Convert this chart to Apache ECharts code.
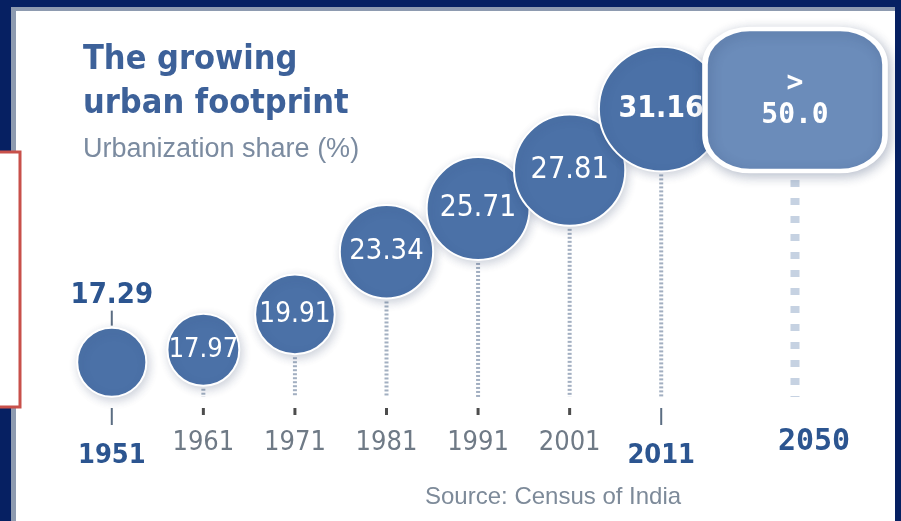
<!DOCTYPE html>
<html>
<head>
<meta charset="utf-8">
<script src="https://cdn.jsdelivr.net/npm/echarts@6/dist/echarts.min.js"></script>
<style>
  html, body { margin: 0; padding: 0; background: #062062; }
  #chart { width: 901px; height: 521px; }
</style>
</head>
<body>
<div id="chart"></div>
<script>
// census years and urban share (%)
var years = ['1951', '1961', '1971', '1981', '1991', '2001', '2011'];
var share = [17.29, 17.97, 19.91, 23.34, 25.71, 27.81, 31.16];
var boldYears = ['1951', '2011'];
var futureYear = ['2050'];
var futureShare = [50.0];
var futureText = ['>\n50.0'];

var narrow = '"DejaVu Sans Condensed", "Liberation Sans", sans-serif';
var mono = '"DejaVu Sans Mono", monospace';
var blue = '#4b71a7';
var darkBlue = '#2c5590';

var myChart = echarts.init(document.getElementById('chart'));

var bubbleData = share.map(function (v, i) {
    var isBold = i === share.length - 1;
    var item = {
        value: v,
        label: {
            show: true,
            position: 'inside',
            color: '#fff',
            fontFamily: narrow,
            fontSize: isBold ? 30 : 27 + (v - 18) * 0.35,
            fontWeight: isBold ? 'bold' : 'normal'
        }
    };
    if (i === 0) {
        item.label = {
            show: true,
            position: 'top',
            distance: 17,
            color: darkBlue,
            fontFamily: narrow,
            fontSize: 29,
            fontWeight: 'bold'
        };
    }
    return item;
});

function stemItem(params, api) {
    var idx = api.value(0);
    var v = api.value(1);
    var p = api.coord([idx, v]);
    var base = api.coord([idx, 15])[1];
    var r = v * 2;
    var bold = boldYears.indexOf(years[idx]) >= 0;
    var children = [];
    if (p[1] + r + 3 < base - 7) {
        children.push({
            type: 'line',
            shape: { x1: p[0], y1: p[1] + r + 3, x2: p[0], y2: base - 7 },
            style: { stroke: '#a2afc1', lineWidth: 4, lineDash: [2, 2] }
        });
    }
    children.push({
        type: 'line',
        shape: { x1: p[0], y1: base + 4, x2: p[0], y2: base + (bold ? 21 : 11) },
        style: { stroke: bold ? '#5b6d82' : '#4d4d4d', lineWidth: bold ? 2 : 3 }
    });
    if (idx === 0) {
        children.push({
            type: 'line',
            shape: { x1: p[0], y1: p[1] - r - 2, x2: p[0], y2: p[1] - r - 17 },
            style: { stroke: '#5b6d82', lineWidth: 2 }
        });
    }
    return { type: 'group', children: children };
}

const option = {
    backgroundColor: '#062062',
    animation: false,
    graphic: [
        { type: 'rect', z: -10, shape: { x: 11, y: 7, width: 884, height: 520 }, style: { fill: '#8e9bb0' } },
        { type: 'rect', z: -9, shape: { x: 16, y: 11, width: 879, height: 520 }, style: { fill: '#ffffff' } },
        { type: 'rect', z: -8, shape: { x: -10, y: 152, width: 30, height: 255 }, style: { fill: '#ffffff', stroke: '#c8504a', lineWidth: 3 } }
    ],
    title: [
        {
            text: 'The growing\nurban footprint',
            left: 78,
            top: 33,
            itemGap: 10,
            textStyle: { fontFamily: narrow, fontSize: 34, lineHeight: 44, fontWeight: 'bold', color: '#3d6199' },
            subtext: 'Urbanization share (%)',
            subtextStyle: { fontFamily: '"Liberation Sans", sans-serif', fontSize: 27, color: '#7b8ba0' }
        },
        {
            text: 'Source: Census of India',
            left: 420,
            top: 480,
            textStyle: { fontFamily: '"Liberation Sans", sans-serif', fontSize: 24, fontWeight: 'normal', color: '#7d8a99' }
        }
    ],
    grid: [
        { left: 66, width: 641, top: 39, height: 365 },
        { left: 745, width: 100, top: 27, height: 377 }
    ],
    xAxis: [
        {
            type: 'category', gridIndex: 0, data: years,
            axisLine: { show: false }, axisTick: { show: false },
            axisLabel: {
                interval: 0, hideOverlap: false,
                margin: 25, fontFamily: narrow, fontSize: 27, color: '#6f7a86',
                formatter: function (v) { return boldYears.indexOf(v) >= 0 ? '' : v; }
            }
        },
        {
            type: 'category', gridIndex: 0, data: years, position: 'bottom',
            axisLine: { show: false }, axisTick: { show: false },
            axisLabel: {
                interval: 0, hideOverlap: false,
                margin: 38, fontFamily: narrow, fontSize: 27, fontWeight: 'bold', color: darkBlue,
                formatter: function (v) { return boldYears.indexOf(v) >= 0 ? v : ''; }
            }
        },
        {
            type: 'category', gridIndex: 1, data: futureYear,
            axisLine: { show: false }, axisTick: { show: false },
            axisLabel: {
                interval: 0, margin: 23, padding: [0, 0, 0, 38],
                fontFamily: mono, fontSize: 30, fontWeight: 'bold', color: darkBlue
            }
        }
    ],
    yAxis: [
        { type: 'value', gridIndex: 0, min: 15, max: 35, show: false },
        { type: 'value', gridIndex: 1, min: 0, max: 62, show: false }
    ],
    series: [
        {
            type: 'custom',
            xAxisIndex: 0, yAxisIndex: 0,
            z: 1,
            renderItem: stemItem,
            data: share.map(function (v, i) { return [i, v]; })
        },
        {
            type: 'scatter',
            xAxisIndex: 0, yAxisIndex: 0,
            z: 3,
            symbolSize: function (v) { return v * 4; },
            itemStyle: {
                color: blue, opacity: 1, borderColor: '#fff', borderWidth: 2,
                shadowBlur: 10, shadowColor: 'rgba(40,60,100,0.22)', shadowOffsetX: 2, shadowOffsetY: 3
            },
            data: bubbleData
        },
        {
            type: 'custom',
            xAxisIndex: 2, yAxisIndex: 1,
            z: 1,
            renderItem: function (params, api) {
                var p = api.coord([api.value(0), api.value(1)]);
                var base = api.coord([api.value(0), 0])[1];
                return {
                    type: 'line',
                    shape: { x1: p[0], y1: p[1] + 80, x2: p[0], y2: base - 7 },
                    style: { stroke: '#c6d2e2', lineWidth: 9, lineDash: [7, 11] }
                };
            },
            data: futureShare.map(function (v, i) { return [i, v]; })
        },
        {
            type: 'scatter',
            xAxisIndex: 2, yAxisIndex: 1,
            z: 4,
            symbol: 'roundRect',
            symbolSize: [180, 142],
            itemStyle: {
                color: '#6b8cba', opacity: 1, borderColor: '#fff', borderWidth: 5,
                shadowBlur: 12, shadowColor: 'rgba(40,60,100,0.3)', shadowOffsetX: 2, shadowOffsetY: 3
            },
            label: {
                show: true, position: 'inside', color: '#fff',
                fontFamily: mono, fontSize: 28, fontWeight: 'bold', lineHeight: 32,
                formatter: function (p) { return futureText[p.dataIndex]; }
            },
            data: futureShare
        }
    ]
};

myChart.setOption(option);
</script>
</body>
</html>
